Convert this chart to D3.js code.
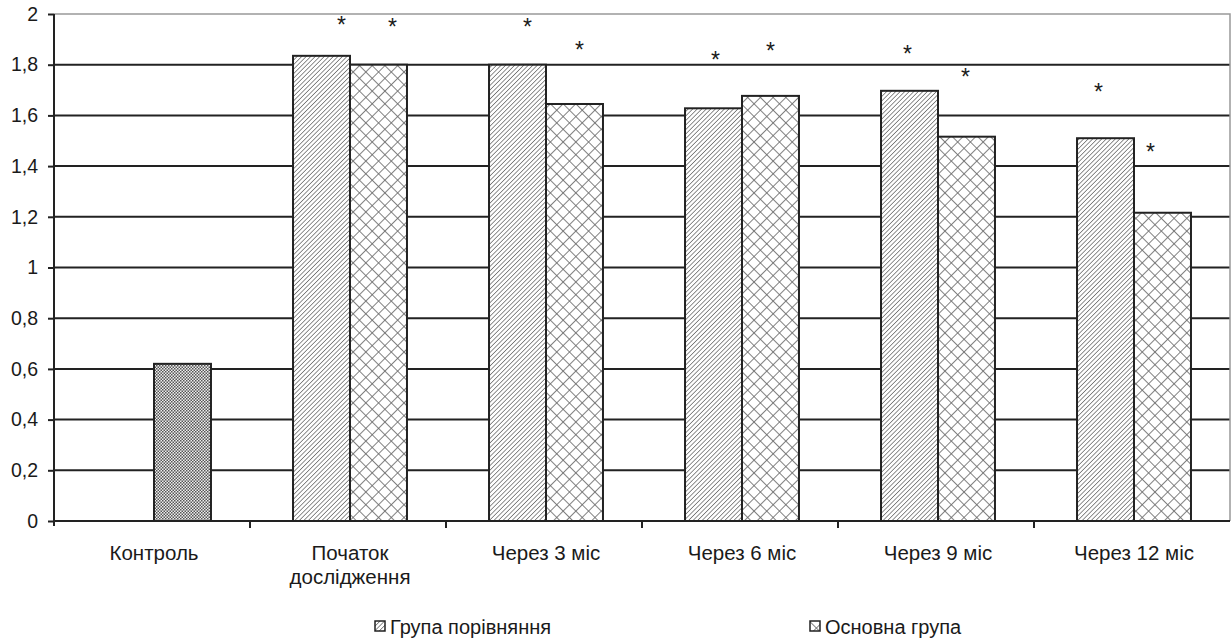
<!DOCTYPE html>
<html>
<head>
<meta charset="utf-8">
<script src="https://cdn.jsdelivr.net/npm/d3@7"></script>
<style>
  body { margin: 0; background: #fff; }
  text { font-family: "Liberation Sans", Arial, sans-serif; fill: #1a1a1a; }
</style>
</head>
<body>
<div id="chart"></div>
<script>
    const categories = ["Контроль", "Початок\nдослідження", "Через 3 міс", "Через 6 міс", "Через 9 міс", "Через 12 міс"];
    const seriesNames = ["Група порівняння", "Основна група"];
    const controlValue = 0.62;
    const comparison = [null, 1.835, 1.80, 1.628, 1.697, 1.51];
    const mainGroup = [null, 1.80, 1.645, 1.677, 1.516, 1.216];
    // heights of the significance asterisks (value units)
    const starComparison = [null, 1.976, 1.968, 1.838, 1.862, 1.712];
    const starMain = [null, 1.968, 1.878, 1.874, 1.771, 1.475];
    const yTicks = [0, 0.2, 0.4, 0.6, 0.8, 1, 1.2, 1.4, 1.6, 1.8, 2];

    // small horizontal nudges of the asterisks, as in the original figure
    const starNudgeComp = [0, 20, 10, 2, -2, -7];
    const starNudgeMain = [0, 14, 5, 0, -1, -12];

    const W = 1231, H = 640;
    const margin = { top: 14, right: 1, bottom: 119, left: 54 };
    const width = W - margin.left - margin.right;
    const height = H - margin.top - margin.bottom;

    const svg = d3.select("#chart")
      .append("svg")
        .attr("width", W)
        .attr("height", H);

    // patterns
    const defs = svg.append("defs");
    const diag = defs.append("pattern")
      .attr("id", "diag").attr("patternUnits", "userSpaceOnUse")
      .attr("width", 3.2).attr("height", 3.2)
      .attr("patternTransform", "rotate(45)");
    diag.append("rect").attr("width", 3.2).attr("height", 3.2).attr("fill", "#fff");
    diag.append("line").attr("x1", 0).attr("y1", 0).attr("x2", 0).attr("y2", 3.2)
      .attr("stroke", "#555").attr("stroke-width", 1.3);

    const cross = defs.append("pattern")
      .attr("id", "cross").attr("patternUnits", "userSpaceOnUse")
      .attr("width", 9).attr("height", 9)
      .attr("patternTransform", "rotate(45)");
    cross.append("rect").attr("width", 9).attr("height", 9).attr("fill", "#fff");
    cross.append("line").attr("x1", 0).attr("y1", 0).attr("x2", 0).attr("y2", 9)
      .attr("stroke", "#6a6a6a").attr("stroke-width", 1.7);
    cross.append("line").attr("x1", 0).attr("y1", 0).attr("x2", 9).attr("y2", 0)
      .attr("stroke", "#6a6a6a").attr("stroke-width", 1.7);

    const checker = defs.append("pattern")
      .attr("id", "checker").attr("patternUnits", "userSpaceOnUse")
      .attr("width", 3).attr("height", 3);
    checker.append("rect").attr("width", 3).attr("height", 3).attr("fill", "#eee");
    checker.append("rect").attr("width", 1.5).attr("height", 1.5).attr("fill", "#555");
    checker.append("rect").attr("x", 1.5).attr("y", 1.5).attr("width", 1.5).attr("height", 1.5).attr("fill", "#555");

    const g = svg.append("g")
        .attr("transform", `translate(${margin.left},${margin.top})`);

    const x = d3.scaleBand()
      .domain(categories)
      .range([0, width]);

    const xSub = d3.scaleBand()
      .domain(["comp", "main"])
      .range([0, x.bandwidth()])
      .paddingOuter(0.72);

    const y = d3.scaleLinear()
      .domain([0, 2])
      .range([height, 0]);

    // gridlines
    g.selectAll(".grid")
      .data(yTicks.filter(d => d > 0 && d < 2))
      .enter()
      .append("line")
        .attr("x1", 0).attr("x2", width)
        .attr("y1", d => y(d)).attr("y2", d => y(d))
        .attr("stroke", "#222").attr("stroke-width", 2);

    // plot border (top and right, gray)
    g.append("path")
      .attr("d", `M0,${y(2)}H${width}V${y(0)}`)
      .attr("fill", "none").attr("stroke", "#999").attr("stroke-width", 1.5);

    const bars = [];
    categories.forEach((c, i) => {
      if (i === 0) {
        bars.push({ cat: c, key: "main", v: controlValue, fill: "url(#checker)" });
      } else {
        bars.push({ cat: c, key: "comp", v: comparison[i], fill: "url(#diag)" });
        bars.push({ cat: c, key: "main", v: mainGroup[i], fill: "url(#cross)" });
      }
    });

    g.selectAll(".bar")
      .data(bars)
      .enter()
      .append("rect")
        .attr("class", "bar")
        .attr("x", d => x(d.cat) + xSub(d.key) + 2)
        .attr("y", d => y(d.v))
        .attr("width", xSub.bandwidth())
        .attr("height", d => y(0) - y(d.v))
        .attr("fill", d => d.fill)
        .attr("stroke", "#222")
        .attr("stroke-width", 2);

    // asterisks
    const stars = [];
    categories.forEach((c, i) => {
      if (starComparison[i] != null) stars.push({ cat: c, key: "comp", v: starComparison[i], dx: starNudgeComp[i] });
      if (starMain[i] != null) stars.push({ cat: c, key: "main", v: starMain[i], dx: starNudgeMain[i] });
    });
    g.selectAll(".star")
      .data(stars)
      .enter()
      .append("text")
        .attr("x", d => x(d.cat) + xSub(d.key) + xSub.bandwidth() / 2 + 2 + d.dx)
        .attr("y", d => y(d.v) + 13)
        .attr("text-anchor", "middle")
        .style("font-size", "23px")
        .text("*");

    // y axis
    const yAxis = g.append("g")
      .call(d3.axisLeft(y).tickValues(yTicks).tickSize(6).tickPadding(10)
        .tickFormat(d => String(d).replace(".", ",")));
    yAxis.select(".domain").attr("stroke", "#222").attr("stroke-width", 2)
      .attr("d", `M0,${y(2)}V${y(0) + 5}`);
    yAxis.selectAll(".tick line").attr("stroke", "#222").attr("stroke-width", 2);
    yAxis.selectAll(".tick text").style("font-size", "19.5px").attr("fill", "#1a1a1a");

    // x axis
    g.append("line")
      .attr("x1", 0).attr("x2", width)
      .attr("y1", y(0)).attr("y2", y(0))
      .attr("stroke", "#222").attr("stroke-width", 2);
    g.selectAll(".xtick")
      .data(categories.slice(1))
      .enter()
      .append("line")
        .attr("x1", d => x(d)).attr("x2", d => x(d))
        .attr("y1", y(0)).attr("y2", y(0) + 7)
        .attr("stroke", "#222").attr("stroke-width", 2);

    const labels = g.selectAll(".xlabel")
      .data(categories)
      .enter()
      .append("text")
        .attr("text-anchor", "middle")
        .attr("transform", d => `translate(${x(d) + x.bandwidth() / 2 + 2},${y(0) + 39})`)
        .style("font-size", "20.5px");
    labels.selectAll("tspan")
      .data(d => d.split("\n"))
      .enter()
      .append("tspan")
        .attr("x", 0)
        .attr("dy", (d, i) => i === 0 ? 0 : 24)
        .text(d => d);

    // legend
    const legendX = [375, 810];
    const legendFill = ["url(#diag)", "url(#cross)"];
    const legend = svg.selectAll(".legend")
      .data(seriesNames)
      .enter()
      .append("g")
        .attr("transform", (d, i) => `translate(${legendX[i]},621)`);
    legend.append("rect")
      .attr("width", 10).attr("height", 10)
      .attr("fill", (d, i) => legendFill[i])
      .attr("stroke", "#222").attr("stroke-width", 1.5);
    legend.append("text")
      .attr("x", 15).attr("y", 12.5)
      .style("font-size", "20px")
      .text(d => d);
</script>
</body>
</html>
